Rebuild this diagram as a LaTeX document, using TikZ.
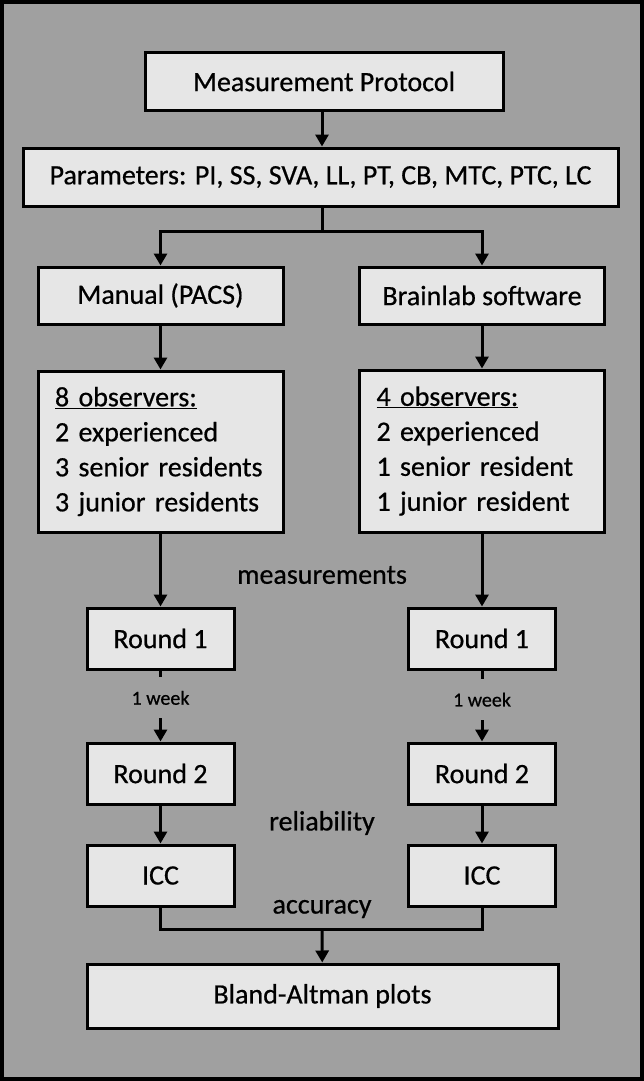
\documentclass[tikz,border=0pt]{standalone}
\usepackage{fontspec}
\setmainfont{Carlito}[FakeBold=0.6]
\usetikzlibrary{arrows.meta}
\definecolor{bgc}{RGB}{160,160,160}
\definecolor{boxc}{RGB}{230,230,230}
\begin{document}
\begin{tikzpicture}[x=1pt,y=-1pt,
  box/.style={draw=black, line width=3pt, fill=boxc, inner sep=0pt, font=\fontsize{28}{35}\selectfont, align=center},
  lbl/.style={inner sep=0pt, font=\fontsize{28}{35}\selectfont},
  wk/.style={fill=bgc, inner sep=0pt, minimum height=41pt, font=\fontsize{20}{24}\selectfont},
  conn/.style={line width=3pt},
  arr/.style={conn, -{Triangle[length=12pt,width=13pt]}},
]
\fill[bgc] (0,0) rectangle (644,1081);
\draw[line width=4pt] (2,2) rectangle (642,1079);
\useasboundingbox (0,0) rectangle (644,1081);

\node[box, minimum width=358pt, minimum height=57pt] (mp) at (324,81.5) {Measurement Protocol};
\node[box, minimum width=595pt, minimum height=58pt] (param) at (320.5,177) {Parameters: PI, SS, SVA, LL, PT, CB, MTC, PTC, LC};
\node[box, minimum width=245pt, minimum height=57pt] (man) at (160.5,295.5) {Manual (PACS)};
\node[box, minimum width=245pt, minimum height=57pt] (brl) at (482,295.5) {Brainlab software};
\node[box, minimum width=245pt, minimum height=161pt, text width=211pt, align=left] (obsL) at (160.5,451.5) {\underline{8 observers:}\\2 experienced\\3 senior residents\\3 junior residents};
\node[box, minimum width=245pt, minimum height=162pt, text width=211pt, align=left] (obsR) at (482,451) {\underline{4 observers:}\\2 experienced\\1 senior resident\\1 junior resident};
\node[box, minimum width=147pt, minimum height=61pt] (r1L) at (160.5,638.5) {Round 1};
\node[box, minimum width=147pt, minimum height=61pt] (r1R) at (482,638.5) {Round 1};
\node[box, minimum width=147pt, minimum height=61pt] (r2L) at (160.5,773.5) {Round 2};
\node[box, minimum width=147pt, minimum height=61pt] (r2R) at (482,773.5) {Round 2};
\node[box, minimum width=147pt, minimum height=61pt] (iccL) at (160.5,875.5) {ICC};
\node[box, minimum width=147pt, minimum height=61pt] (iccR) at (482,875.5) {ICC};
\node[box, minimum width=471pt, minimum height=64pt] (ba) at (322.5,996) {Bland-Altman plots};

\node[lbl] (meas) at (322,575) {measurements};
\node[lbl] (rel) at (322,823) {reliability};
\node[lbl] (acc) at (322,909) {accuracy};

\coordinate (split) at (322,231);
\coordinate (merge) at (322,929);

\draw[arr] (mp.south -| split) -- (param.north -| split);
\draw[conn] (param.south -| split) -- (split);
\draw[arr] (split) -| (man.north);
\draw[arr] (split) -| (brl.north);
\draw[arr] (man) -- (obsL);
\draw[arr] (brl) -- (obsR);
\draw[arr] (obsL) -- (r1L);
\draw[arr] (obsR) -- (r1R);
\draw[arr] (r1L) -- node[wk, pos=0.385] (wkL) {1 week} (r2L);
\draw[arr] (r1R) -- node[wk, pos=0.41] (wkR) {1 week} (r2R);
\draw[arr] (r2L) -- (iccL);
\draw[arr] (r2R) -- (iccR);
\draw[conn] (iccL.south) -- (iccL.south |- merge) -- (iccR.south |- merge) -- (iccR.south);
\draw[arr] (merge) -- (ba);
\end{tikzpicture}
\end{document}
